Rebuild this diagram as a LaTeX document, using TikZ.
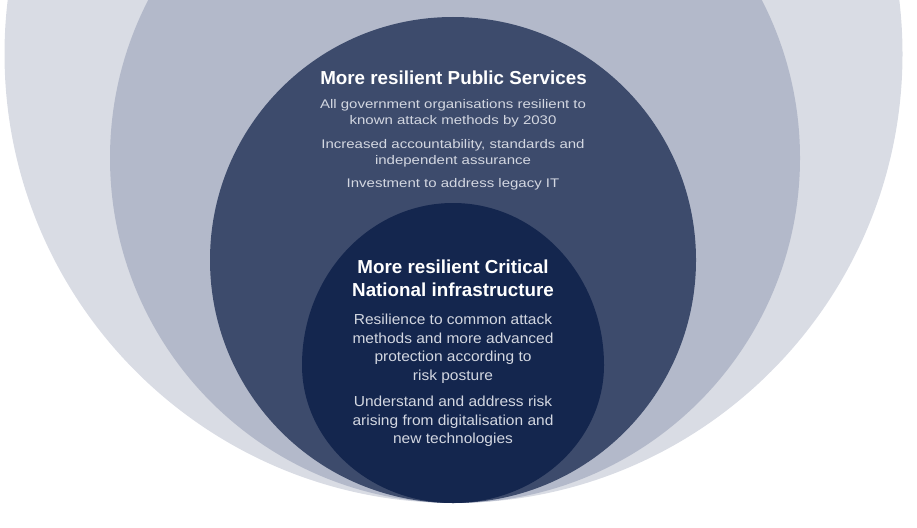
\documentclass[tikz,border=0pt]{standalone}
\usepackage{fontspec}
\setmainfont{Liberation Sans}
\newfontfamily\bodyA[FakeStretch=1.2]{Liberation Sans}
\newfontfamily\bodyB[FakeStretch=1.07]{Liberation Sans}
\definecolor{ringA}{HTML}{D9DCE4}
\definecolor{ringB}{HTML}{B3B9CA}
\definecolor{ringC}{HTML}{3D4B6C}
\definecolor{ringD}{HTML}{14264E}
\definecolor{bodytxt}{HTML}{D3D7E1}
\tikzset{
  ttl/.style={anchor=base, text=white, inner sep=0pt, font=\fontsize{18.8}{22}\selectfont\bfseries},
  txtA/.style={anchor=base, text=bodytxt, inner sep=0pt, font=\bodyA\fontsize{12.5}{15}\selectfont},
  txtB/.style={anchor=base, text=bodytxt, inner sep=0pt, font=\bodyB\fontsize{14.5}{18}\selectfont},
}
\begin{document}
\begin{tikzpicture}[x=1pt,y=-1pt]
\useasboundingbox (0,0) rectangle (917,527);
\begin{scope}
\clip (0,0) rectangle (917,527);
\fill[ringA] (453.5,54) circle (449);
\fill[ringB] (455,158) circle (345);
\fill[ringC] (453,260) circle (243);
\fill[ringD] (302,365) arc[start angle=180, end angle=360, x radius=151, y radius=162]
  arc[start angle=0, end angle=180, x radius=151, y radius=138] -- cycle;
\end{scope}
\node[ttl] (t1) at (453.5,84) {More resilient Public Services};
\node[txtA] (a1) at (453,108.3) {All government organisations resilient to};
\node[txtA] (a2) at (453,124.3) {known attack methods by 2030};
\node[txtA] (a3) at (453,148.3) {Increased accountability, standards and};
\node[txtA] (a4) at (453,164) {independent assurance};
\node[txtA] (a5) at (453,187.3) {Investment to address legacy IT};
\node[ttl] (t2) at (453,273.3) {More resilient Critical};
\node[ttl] (t3) at (453,296.7) {National infrastructure};
\node[txtB] (b1) at (453,324) {Resilience to common attack};
\node[txtB] (b2) at (453,343) {methods and more advanced};
\node[txtB] (b3) at (453,361.7) {protection according to};
\node[txtB] (b4) at (453,380) {risk posture};
\node[txtB] (b5) at (453,406.7) {Understand and address risk};
\node[txtB] (b6) at (453,425) {arising from digitalisation and};
\node[txtB] (b7) at (453,443.3) {new technologies};
\end{tikzpicture}
\end{document}
